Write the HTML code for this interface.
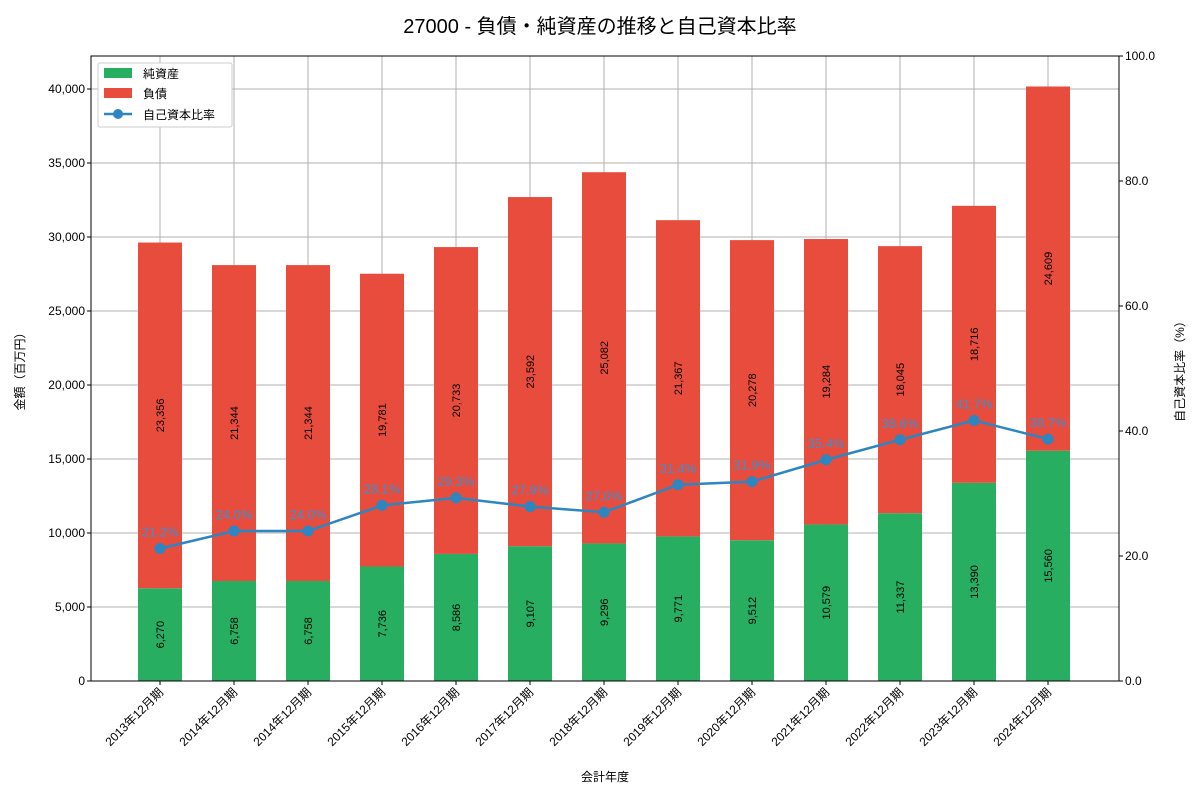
<!DOCTYPE html>
<html><head><meta charset="utf-8"><style>
body{margin:0;background:#fff}
svg{font-family:"Liberation Sans","Noto Sans CJK JP",sans-serif}
</style></head><body>
<svg id="c" width="1200" height="800" xmlns="http://www.w3.org/2000/svg">
<rect width="1200" height="800" fill="#fff"/>
<text x="600" y="33" font-size="20" text-anchor="middle" fill="#000">27000 - 負債・純資産の推移と自己資本比率</text>
<g id="grid"></g><g id="bars"></g><g id="line"></g><g id="axes"></g>
<g>
<rect x="98" y="63" width="134" height="64" fill="#fff" stroke="#ccc" rx="2"/>
<rect x="104" y="68" width="28" height="10" fill="#27ae60"/><text x="143" y="78" font-size="12">純資産</text>
<rect x="104" y="88" width="28" height="10" fill="#e74c3c"/><text x="143" y="98" font-size="12">負債</text>
<line x1="104" y1="114" x2="132" y2="114" stroke="#2e86c1" stroke-width="2.5"/><circle cx="118" cy="114" r="5" fill="#2e86c1"/><text x="143" y="119" font-size="12">自己資本比率</text>
</g>
</svg>
<script>
const categories=["2013年12月期","2014年12月期","2014年12月期","2015年12月期","2016年12月期","2017年12月期","2018年12月期","2019年12月期","2020年12月期","2021年12月期","2022年12月期","2023年12月期","2024年12月期"];
const equity=[6270,6758,6758,7736,8586,9107,9296,9771,9512,10579,11337,13390,15560];
const liabilities=[23356,21344,21344,19781,20733,23592,25082,21367,20278,19284,18045,18716,24609];
const ratio=[21.2,24.0,24.0,28.1,29.3,27.9,27.0,31.4,31.9,35.4,38.6,41.7,38.7];
const leftTicks=[0,5000,10000,15000,20000,25000,30000,35000,40000];
const rightTicks=[0,20,40,60,80,100];
const NS="http://www.w3.org/2000/svg";
const L=91,R=1119,T=56,B=681;
const yL=v=>B-v*(B-T)/42230;
const yR=v=>B-v*(B-T)/100;
const xC=i=>160+i*74;
function el(p,t,a){const e=document.createElementNS(NS,t);for(const k in a)e.setAttribute(k,a[k]);p.appendChild(e);return e;}
const g=document.getElementById('grid'),bg=document.getElementById('bars'),lg=document.getElementById('line'),ax=document.getElementById('axes');
const fmt=v=>v.toLocaleString('en-US');
leftTicks.forEach(v=>{const l=el(g,'line',{x1:L,x2:R,y1:yL(v),y2:yL(v),stroke:'#b0b0b0','stroke-width':1});


const t=el(ax,'text',{x:L-6,y:yL(v)+4,'font-size':12,'text-anchor':'end'});t.textContent=fmt(v);


el(ax,'line',{x1:L-4,x2:L,y1:yL(v),y2:yL(v),stroke:'#000'});});
rightTicks.forEach(v=>{const t=el(ax,'text',{x:R+6,y:yR(v)+4,'font-size':12});t.textContent=v.toFixed(1);


el(ax,'line',{x1:R,x2:R+4,y1:yR(v),y2:yR(v),stroke:'#000'});});
categories.forEach((c,i)=>{const x=xC(i);
const gl=el(g,'line',{x1:x,x2:x,y1:T,y2:B,stroke:'#b0b0b0','stroke-width':1});


const e=equity[i],li=liabilities[i];
const r1=el(bg,'rect',{x:x-22,y:yL(e),width:44,height:B-yL(e),fill:'#27ae60'});


const r2=el(bg,'rect',{x:x-22,y:yL(e+li),width:44,height:yL(e)-yL(e+li),fill:'#e74c3c'});


[[e,yL(e/2)],[li,yL(e+li/2)]].forEach(([v,y])=>{const t=el(bg,'text',{x:0,y:0,'font-size':11,'text-anchor':'middle',transform:`translate(${x+4},${y}) rotate(-90)`});t.textContent=fmt(v);

});
el(ax,'line',{x1:x,x2:x,y1:B,y2:B+4,stroke:'#000'});
const t=el(ax,'text',{x:0,y:0,'font-size':12,'text-anchor':'end',transform:`translate(${x+4},${B+12}) rotate(-45)`});t.textContent=c;

});
el(lg,'polyline',{points:ratio.map((v,i)=>xC(i)+','+yR(v)).join(' '),fill:'none',stroke:'#2e86c1','stroke-width':2.5});
ratio.forEach((v,i)=>{const c=el(lg,'circle',{cx:xC(i),cy:yR(v),r:5.5,fill:'#2e86c1'});


const t=el(lg,'text',{x:xC(i),y:yR(v)-12,'font-size':13,'text-anchor':'middle',fill:'#3d8fd0'});t.textContent=v.toFixed(1)+'%';

});
el(ax,'rect',{x:L,y:T,width:R-L,height:B-T,fill:'none',stroke:'#000','stroke-width':1});
let t=el(ax,'text',{x:0,y:0,'font-size':12,'text-anchor':'middle',transform:`translate(24,${(T+B)/2}) rotate(-90)`});t.textContent='金額（百万円）';


t=el(ax,'text',{x:0,y:0,'font-size':12,'text-anchor':'middle',transform:`translate(1184,${(T+B)/2}) rotate(-90)`});t.textContent='自己資本比率（%）';


t=el(ax,'text',{x:(L+R)/2,y:781,'font-size':12,'text-anchor':'middle'});t.textContent='会計年度';


</script>
</body></html>
